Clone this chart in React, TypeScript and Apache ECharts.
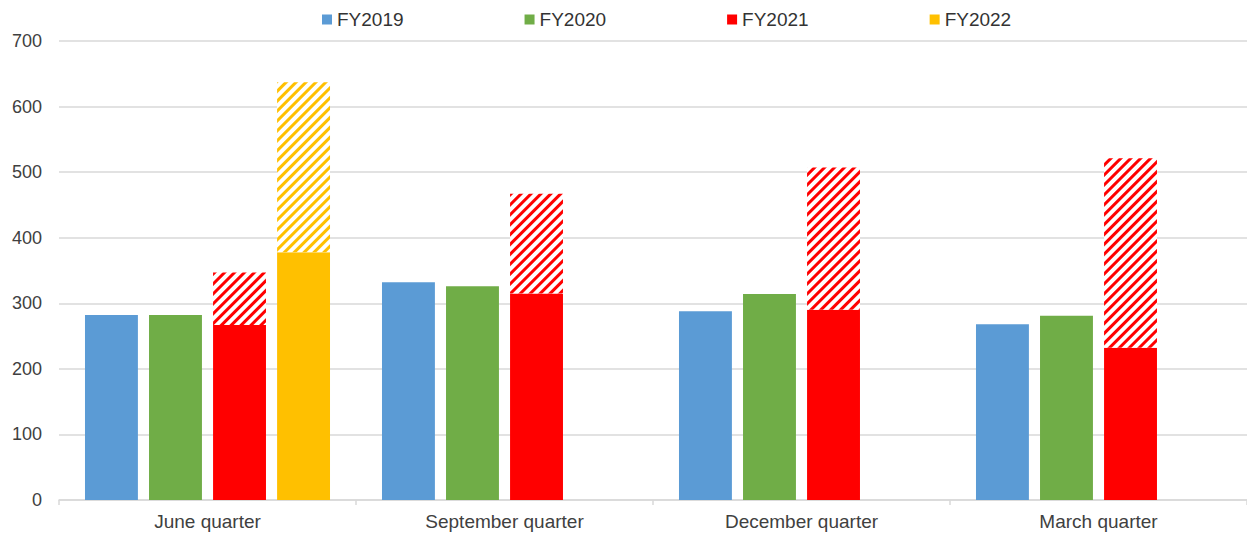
import React, { useEffect, useRef } from "react";
import * as echarts from "echarts";

const categories = ["June quarter", "September quarter", "December quarter", "March quarter"];
const fy2019 = [282, 332, 288, 268];
const fy2020 = [282, 326, 314, 281];
const fy2021 = [267, 315, 290, 232];
const fy2021Total = [347, 467, 507, 521];
const fy2022 = [378, null, null, null];
const fy2022Total = [637, null, null, null];
const yTicks = { min: 0, max: 700, interval: 100 };

const BLUE = "#5b9bd5";
const GREEN = "#70ad47";
const RED = "#ff0000";
const YELLOW = "#ffc000";

function hatch(color: string) {
  return {
    color: "#ffffff",
    decal: {
      symbol: "rect",
      color: color,
      backgroundColor: "#ffffff",
      dashArrayX: [1, 0],
      dashArrayY: [3, 4],
      rotation: -Math.PI / 4,
    },
  };
}

export default function App() {
  const ref = useRef<HTMLDivElement>(null);
  useEffect(() => {
    const chart = echarts.init(ref.current!, null, { renderer: "svg" });
    const font = "'Liberation Sans', Arial, sans-serif";
    const diff = (tot: (number | null)[], base: (number | null)[]) =>
      tot.map((t, i) => (t == null || base[i] == null ? null : (t as number) - (base[i] as number)));
    chart.setOption({
      animation: false,
      textStyle: { fontFamily: font },
      legend: {
        top: 5,
        left: 317,
        itemWidth: 10,
        itemHeight: 10,
        itemGap: 121,
        icon: "rect",
        data: ["FY2019", "FY2020", "FY2021", "FY2022"],
        textStyle: { fontSize: 19, color: "#333333", fontFamily: font },
      },
      grid: { left: 59, right: 0, top: 41, bottom: 36, containLabel: false },
      xAxis: {
        type: "category",
        data: categories,
        axisLine: { lineStyle: { color: "#d9d9d9", width: 1.5 } },
        axisTick: { show: true, length: 5, lineStyle: { color: "#d9d9d9", width: 1.5 } },
        axisLabel: { fontSize: 19, color: "#404040", margin: 12, fontFamily: font },
      },
      yAxis: {
        type: "value",
        min: yTicks.min,
        max: yTicks.max,
        interval: yTicks.interval,
        axisLine: { show: false },
        axisTick: { show: false },
        splitLine: { lineStyle: { color: "#d9d9d9", width: 1.5 } },
        axisLabel: { fontSize: 18, color: "#404040", margin: 17, fontFamily: font },
      },
      series: [
        { name: "FY2019", type: "bar", data: fy2019, itemStyle: { color: BLUE }, barGap: "21%", barCategoryGap: "17.5%" },
        { name: "FY2020", type: "bar", data: fy2020, itemStyle: { color: GREEN } },
        { name: "FY2021", type: "bar", stack: "a", data: fy2021, itemStyle: { color: RED } },
        { name: "FY2021 projected", type: "bar", stack: "a", data: diff(fy2021Total, fy2021), itemStyle: hatch(RED) },
        { name: "FY2022", type: "bar", stack: "b", data: fy2022, itemStyle: { color: YELLOW } },
        { name: "FY2022 projected", type: "bar", stack: "b", data: diff(fy2022Total, fy2022), itemStyle: hatch(YELLOW) },
      ],
    });
    return () => chart.dispose();
  }, []);
  return <div ref={ref} style={{ width: 1247, height: 536, position: "absolute", left: 0, top: 0 }} />;
}
